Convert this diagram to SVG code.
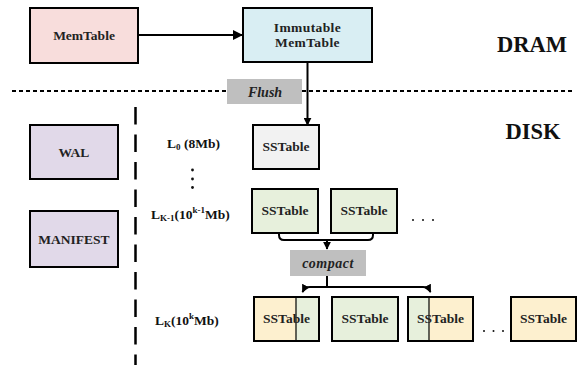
<svg xmlns="http://www.w3.org/2000/svg" width="581" height="365" viewBox="0 0 581 365">
  <defs>
    <marker id="arrow" viewBox="0 0 10 10" refX="9" refY="5" markerWidth="10" markerHeight="10" markerUnits="userSpaceOnUse" orient="auto">
      <path d="M0,0 L10,5 L0,10 z" fill="#000"/>
    </marker>
    <marker id="arrowSmall" viewBox="0 0 10 10" refX="9" refY="5" markerWidth="8" markerHeight="8" markerUnits="userSpaceOnUse" orient="auto">
      <path d="M0,0 L10,5 L0,10 z" fill="#000"/>
    </marker>
  </defs>
  <style>
    text { font-family: 'Liberation Serif', 'Times New Roman', Times, serif; font-weight: bold; }
    .box { stroke: #000; stroke-width: 2; }
    .lbl { font-size: 13.5px; fill: #222; text-anchor: middle; }
    .lvl { font-size: 13.5px; fill: #111; }
    .zone { font-size: 22.5px; fill: #111; text-anchor: middle; }
    .op { font-style: italic; font-size: 14px; fill: #222; text-anchor: middle; }
    .tag { fill: #bfbfbf; }
    .pink { fill: #f8dddc; }
    .cyan { fill: #d9eef3; }
    .lav { fill: #e1d9e9; }
    .grey { fill: #f2f2f2; }
    .green { fill: #e7f0dc; }
    .yellow { fill: #fdf0cf; }
    .wire { fill: none; stroke: #000; stroke-width: 2; }
    .dot { fill: #111; }
  </style>

  <!-- memory / storage boundary and level separator -->
  <g id="separators">
    <line x1="12" y1="91" x2="228" y2="91" stroke="#000" stroke-width="2.2" stroke-dasharray="4 3"/>
    <line x1="302" y1="91" x2="573" y2="91" stroke="#000" stroke-width="2.2" stroke-dasharray="4 3"/>
    <line x1="135.5" y1="107" x2="135.5" y2="365" stroke="#000" stroke-width="2.5" stroke-dasharray="17.5 10"/>
  </g>

  <!-- zone titles -->
  <text class="zone" x="532" y="52" font-family="Liberation Serif, serif">DRAM</text>
  <text class="zone" x="533" y="139" font-family="Liberation Serif, serif">DISK</text>

  <!-- operation tags -->
  <g id="flush">
    <rect class="tag" x="227" y="79" width="75" height="25"/>
    <text class="op" x="265" y="96.5">Flush</text>
  </g>
  <g id="compact">
    <rect class="tag" x="290" y="250" width="76" height="26"/>
    <text class="op" x="328" y="268" letter-spacing="0.5">compact</text>
  </g>

  <!-- memory tables -->
  <g id="memtable">
    <rect class="box pink" x="30" y="8" width="108" height="55"/>
    <text class="lbl" x="84" y="40">MemTable</text>
  </g>
  <g id="immutable">
    <rect class="box cyan" x="243" y="8" width="129" height="54"/>
    <text class="lbl" x="307.5" y="32" font-size="12.5" letter-spacing="0.4">Immutable</text>
    <text class="lbl" x="307.5" y="47" font-size="12.5" letter-spacing="0.4">MemTable</text>
  </g>

  <!-- log files -->
  <g id="wal">
    <rect class="box lav" x="30" y="125" width="88" height="54"/>
    <text class="lbl" x="74" y="157">WAL</text>
  </g>
  <g id="manifest">
    <rect class="box lav" x="30" y="211" width="88" height="56"/>
    <text class="lbl" x="74" y="244">MANIFEST</text>
  </g>

  <!-- level labels -->
  <g id="levels">
    <text class="lvl" x="167" y="148">L<tspan font-size="9" dy="2">0</tspan><tspan dy="-2"> (8Mb)</tspan></text>
    <circle class="dot" cx="192.5" cy="170" r="1.4"/>
    <circle class="dot" cx="192.5" cy="179" r="1.4"/>
    <circle class="dot" cx="192.5" cy="187.5" r="1.4"/>
    <text class="lvl" x="151" y="219">L<tspan font-size="9" dy="2">K-1</tspan><tspan dy="-2">(10</tspan><tspan font-size="9" dy="-6">k-1</tspan><tspan dy="6">Mb)</tspan></text>
    <text class="lvl" x="155" y="325">L<tspan font-size="9" dy="2">K</tspan><tspan dy="-2">(10</tspan><tspan font-size="9" dy="-6">k</tspan><tspan dy="6">Mb)</tspan></text>
  </g>

  <!-- level 0 -->
  <g id="l0-sst">
    <rect class="box grey" x="253" y="125" width="66" height="44"/>
    <text class="lbl" x="286" y="151">SSTable</text>
  </g>

  <!-- level K-1 -->
  <g id="lk1-sst-1">
    <rect class="box green" x="252" y="189" width="66" height="44"/>
    <text class="lbl" x="285" y="215">SSTable</text>
  </g>
  <g id="lk1-sst-2">
    <rect class="box green" x="331" y="189" width="66" height="44"/>
    <text class="lbl" x="364" y="215">SSTable</text>
  </g>
  <g id="lk1-more">
    <circle class="dot" cx="413" cy="220" r="1"/>
    <circle class="dot" cx="423" cy="220" r="1"/>
    <circle class="dot" cx="433" cy="220" r="1"/>
  </g>

  <!-- level K -->
  <g id="lk-sst-1">
    <rect class="yellow" x="254" y="297" width="42" height="44"/>
    <rect class="green" x="296" y="297" width="23" height="44"/>
    <line x1="296" y1="297" x2="296" y2="341" stroke="#000" stroke-width="1.2"/>
    <rect class="box" fill="none" x="254" y="297" width="65" height="44"/>
    <text class="lbl" x="286.5" y="323">SSTable</text>
  </g>
  <g id="lk-sst-2">
    <rect class="box green" x="332" y="297" width="66" height="44"/>
    <text class="lbl" x="365" y="323">SSTable</text>
  </g>
  <g id="lk-sst-3">
    <rect class="green" x="408" y="297" width="21" height="44"/>
    <rect class="yellow" x="429" y="297" width="44" height="44"/>
    <line x1="429" y1="297" x2="429" y2="341" stroke="#000" stroke-width="1.2"/>
    <rect class="box" fill="none" x="408" y="297" width="65" height="44"/>
    <text class="lbl" x="440.5" y="323">SSTable</text>
  </g>
  <g id="lk-more">
    <circle class="dot" cx="484" cy="331" r="1"/>
    <circle class="dot" cx="493.5" cy="331" r="1"/>
    <circle class="dot" cx="503" cy="331" r="1"/>
  </g>
  <g id="lk-sst-4">
    <rect class="box yellow" x="511" y="297" width="65" height="44"/>
    <text class="lbl" x="543.5" y="323">SSTable</text>
  </g>

  <!-- connectors -->
  <g id="connectors">
    <line class="wire" x1="138" y1="35" x2="242" y2="35" marker-end="url(#arrow)"/>
    <line class="wire" x1="307.5" y1="62" x2="307.5" y2="125" marker-end="url(#arrowSmall)"/>
    <path class="wire" d="M279,233 V235 Q279,240 284,240 H368 Q373,240 373,235 V233"/>
    <line class="wire" x1="327" y1="240" x2="327" y2="249" marker-end="url(#arrowSmall)"/>
    <line class="wire" x1="327" y1="276" x2="327" y2="287"/>
    <path class="wire" d="M327,287 H310 Q305,287 302.5,292" marker-end="url(#arrowSmall)"/>
    <path class="wire" d="M327,287 H423 Q428,287 430.5,292" marker-end="url(#arrowSmall)"/>
  </g>
</svg>
